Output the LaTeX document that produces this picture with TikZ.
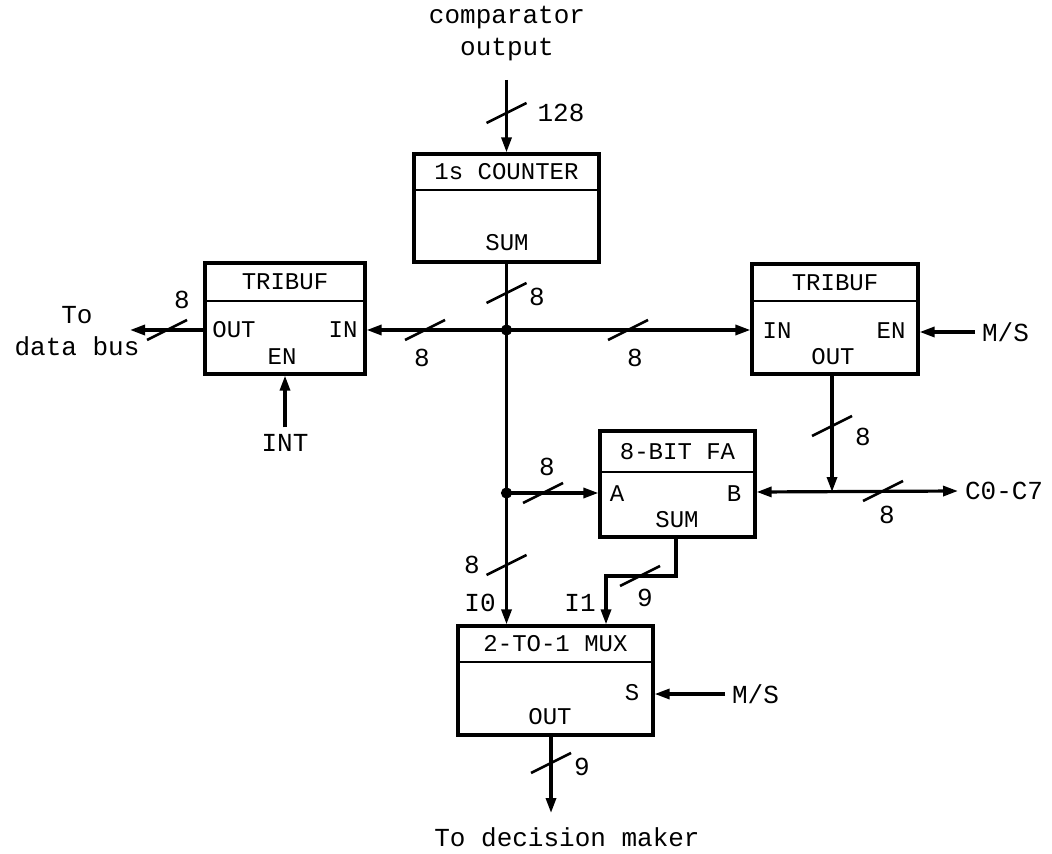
\documentclass[tikz,border=0pt]{standalone}
\usepackage{fontspec}
\setmonofont{Liberation Mono}
\usetikzlibrary{arrows.meta, calc}
\tikzset{
  blk/.style    = {draw, line width=1.6pt, inner sep=0pt},
  divline/.style = {line width=1.4pt},
  wire/.style   = {line width=1.6pt},
  sig/.style    = {wire, -{Triangle[length=7.5pt, width=5pt]}},
  boxlbl/.style = {font=\ttfamily\fontsize{12}{14}\selectfont, inner sep=1pt},
  port/.style   = {font=\ttfamily\fontsize{12}{14}\selectfont, inner sep=1pt},
  lbl/.style    = {font=\ttfamily\fontsize{13}{16}\selectfont, align=center},
  buscut/.pic   = {\draw[line width=1.3pt] (-20,10) -- (20,-10);},
}
% block with title bar: name, x1, y1, x2, y2, divider y, title
\newcommand{\funcblock}[7]{%
  \pgfmathsetmacro{\bw}{0.5*(#4-#2)}
  \pgfmathsetmacro{\bh}{0.5*(#5-#3)}
  \node[blk, minimum width=\bw pt, minimum height=\bh pt] (#1) at ({(#2+#4)/2},{(#3+#5)/2}) {};
  \draw[divline] (#2,#6) -- (#4,#6);
  \node[boxlbl] (#1-ttl) at ({(#2+#4)/2},{(#3+#6)/2}) {#7};
}
% bus width mark: slash position, label position, label, label name
\newcommand{\busmark}[4]{%
  \pic at (#1) {buscut};
  \node[lbl] (#4) at (#2) {#3};
}

\begin{document}
\begin{tikzpicture}[x=0.5pt, y=-0.5pt]
  \useasboundingbox (0,0) rectangle (1052,854);
  % blocks
  \funcblock{cnt}{414}{154}{599}{262}{190}{1s COUNTER}
  \funcblock{tbl}{205}{263}{365}{374}{301}{TRIBUF}
  \funcblock{tbr}{752}{264}{918}{374}{301}{TRIBUF}
  \funcblock{fa}{600}{431}{755}{537}{472}{8-BIT FA}
  \funcblock{mux}{458}{626}{653}{735}{662}{2-TO-1 MUX}
  % ports
  \node[port] (cnt-sum) at (507,243) {SUM};
  \node[port] (tbl-out) at (234,330) {OUT};
  \node[port] (tbl-in)  at (343,330) {IN};
  \node[port] (tbl-en)  at (282,357) {EN};
  \node[port] (tbr-in)  at (777,331) {IN};
  \node[port] (tbr-en)  at (891,331) {EN};
  \node[port] (tbr-out) at (833,357) {OUT};
  \node[port] (fa-a)    at (617,494) {A};
  \node[port] (fa-b)    at (734,494) {B};
  \node[port] (fa-sum)  at (677,520) {SUM};
  \node[port] (mux-s)   at (632,693) {S};
  \node[port] (mux-out) at (550,717) {OUT};
  % outside texts
  \node[lbl] (cmp)  at (507,34) {comparator\\output};
  \node[lbl] (dbus) at (77,331) {To\\data bus};
  \node[lbl] (int)  at (285,443) {INT};
  \node[lbl, anchor=west] (ms1) at (975,332) {M/S};
  \node[lbl, anchor=west] (c07) at (958,491) {C0-C7};
  \node[lbl, anchor=west] (ms2) at (725,694) {M/S};
  \node[lbl] (dec) at (567,837) {To decision maker};
  \node[lbl] (i0)  at (480,603) {I0};
  \node[lbl] (i1)  at (580,603) {I1};
  % junctions and bends
  \coordinate (cmpin) at (506.5,80);
  \coordinate (jn1)   at (506.5,330);
  \coordinate (jn2)   at (506.5,493);
  \coordinate (tap)   at (832,492);
  \coordinate (dbout) at (130,330);
  \coordinate (sumdn) at (676,576);
  \coordinate (sumin) at (606,576);
  \coordinate (decin) at (551,813);
  % connectors
  \draw[sig] (cmpin) -- (cmpin |- cnt.north);
  \draw[wire] (cnt.south) -- (jn2);
  \draw[sig] (jn2) -- (jn2 |- mux.north);
  \draw[sig] (jn1) -- (jn1 -| tbl.east);
  \draw[sig] (jn1) -- (jn1 -| tbr.west);
  \draw[sig] (jn1 -| tbl.west) -- (dbout);
  \draw[sig] (int.north) -- (int.north |- tbl.south);
  \draw[sig] (ms1.west) -- (ms1.west -| tbr.east);
  \draw[sig] (tbr.south -| tap) -- (tap);
  \draw[wire, {Triangle[length=7.5pt, width=5pt]}-{Triangle[length=7.5pt, width=5pt]}] (fa.east |- tap) -- (c07.west);
  \draw[sig] (jn2) -- (jn2 -| fa.west);
  \draw[sig] (sumdn |- fa.south) -- (sumdn) -- (sumin) -- (sumin |- mux.north);
  \draw[sig] (ms2.west) -- (ms2.west -| mux.east);
  \draw[sig] (decin |- mux.south) -- (decin);
  \fill (jn1) circle[radius=2.8pt];
  \fill (jn2) circle[radius=2.8pt];
  % bus widths
  \busmark{506.5,113}{561,113}{128}{w-cmp}
  \busmark{506.5,293}{537,297}{8}{w-sum}
  \busmark{425,330}{422,358}{8}{w-tbl}
  \busmark{628,330}{635,358}{8}{w-tbr}
  \busmark{167,330}{182,300}{8}{w-dbus}
  \busmark{832,426}{863,437}{8}{w-tout}
  \busmark{543,493}{547,467}{8}{w-a}
  \busmark{883,491}{887,515}{8}{w-c}
  \busmark{506.5,565}{472,565}{8}{w-i0}
  \busmark{640,576}{645,598}{9}{w-i1}
  \busmark{551,763}{582,767}{9}{w-out}
\end{tikzpicture}
\end{document}
